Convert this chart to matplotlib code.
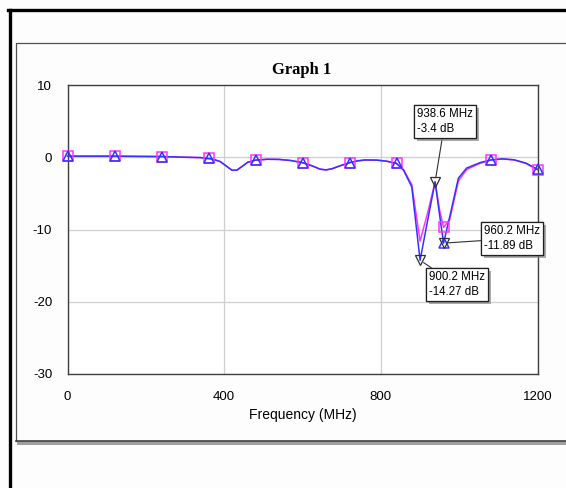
import matplotlib
matplotlib.use("Agg")
import matplotlib.pyplot as plt
from matplotlib.lines import Line2D
from matplotlib.patches import Rectangle
from matplotlib import patheffects

plt.rcParams["axes.unicode_minus"] = False

# ---- data ----
freq = [0, 60, 120, 180, 240, 300, 340, 370, 390, 405, 420, 432, 445, 460,
        480, 510, 540, 570, 600, 625, 645, 660, 675, 695, 720, 740, 760, 790,
        815, 840, 858, 879, 900.2, 920, 938.6, 950, 960.2, 976, 998, 1019,
        1053, 1080, 1110, 1140, 1170, 1200]
s_blue = [0.15, 0.15, 0.15, 0.12, 0.1, 0.0, -0.05, -0.25, -0.6, -1.2, -1.8,
          -1.8, -1.3, -0.7, -0.4, -0.28, -0.3, -0.45, -0.75, -1.2, -1.65,
          -1.75, -1.6, -1.2, -0.75, -0.5, -0.38, -0.4, -0.55, -0.85, -1.8,
          -4.1, -14.27, -8.6, -3.4, -8.0, -11.89, -8.2, -2.9, -1.5, -0.75,
          -0.38, -0.22, -0.35, -0.8, -1.67]
s_magenta = [0.15, 0.15, 0.15, 0.12, 0.1, 0.0, -0.05, -0.25, -0.6, -1.2, -1.8,
             -1.8, -1.3, -0.7, -0.4, -0.28, -0.3, -0.45, -0.75, -1.2, -1.65,
             -1.75, -1.6, -1.2, -0.75, -0.5, -0.38, -0.4, -0.55, -0.85, -1.7,
             -3.8, -11.6, -7.6, -3.4, -7.3, -9.7, -8.6, -3.3, -1.7, -0.85,
             -0.4, -0.24, -0.37, -0.85, -1.72]
marker_freq = [0, 120, 240, 360, 480, 600, 720, 840, 960, 1080, 1200]
marker_blue = [0.15, 0.15, 0.1, -0.15, -0.4, -0.75, -0.75, -0.85, -11.89, -0.38, -1.67]
marker_magenta = [0.15, 0.15, 0.1, -0.15, -0.4, -0.75, -0.75, -0.85, -9.7, -0.4, -1.72]

ann_freq = [938.6, 960.2, 900.2]
ann_db = [-3.4, -11.89, -14.27]
ann_text = ["938.6 MHz\n-3.4 dB", "960.2 MHz\n-11.89 dB", "900.2 MHz\n-14.27 dB"]
ann_box_px = [(417, 108), (484, 225), (429, 271)]  # top-left of label text (pixels)

x_ticks = [0, 400, 800, 1200]
y_ticks = [10, 0, -10, -20, -30]
title = "Graph 1"
x_label = "Frequency (MHz)"

W, H = 566, 488
fig = plt.figure(figsize=(W / 100, H / 100), dpi=100)
fig.patch.set_facecolor("#FDFDFD")

def fx(px):
    return px / W

def fy(py):
    return 1 - py / H

# outer black border (left and top)
fig.add_artist(Line2D([fx(9.5), fx(9.5)], [fy(10), fy(488)], color="black", lw=2.4,
                      transform=fig.transFigure))
fig.add_artist(Line2D([fx(8.3), fx(566)], [fy(10), fy(10)], color="black", lw=2.4,
                      transform=fig.transFigure))
# inner panel with shadow
fig.add_artist(Rectangle((fx(17), fy(444.5)), fx(566) - fx(17), fy(441) - fy(444.5),
                         color="#A0A0A0", lw=0, transform=fig.transFigure))
fig.add_artist(Line2D([fx(15.5), fx(15.5), fx(566)], [fy(440.5), fy(42.5), fy(42.5)],
                      color="#505050", lw=0.9, transform=fig.transFigure))
fig.add_artist(Line2D([fx(15.5), fx(566)], [fy(440.5), fy(440.5)],
                      color="#404040", lw=1.2, transform=fig.transFigure))

ax_l, ax_r, ax_t, ax_b = 67.5, 537.5, 85, 374
ax = fig.add_axes([fx(ax_l), fy(ax_b), (ax_r - ax_l) / W, (ax_b - ax_t) / H])
ax.set_facecolor("white")
ax.set_xlim(0, 1200)
ax.set_ylim(-30, 10)
ax.set_xticks(x_ticks)
ax.set_yticks(y_ticks)
ax.tick_params(length=0, labelsize=9.5)
ax.tick_params(axis="x", pad=12.5)
ax.tick_params(axis="y", pad=11)
for lab in ax.get_xticklabels() + ax.get_yticklabels():
    lab.set_fontfamily("Liberation Sans")
ax.grid(True, color="#CFCFCF", lw=0.9)
ax.set_axisbelow(True)
for sp in ax.spines.values():
    sp.set_color("#404040")
    sp.set_linewidth(1.0)

ax.set_xlabel(x_label, fontsize=10, family="Liberation Sans", labelpad=3)
fig.text(fx(302), fy(70), title, ha="center", va="center", fontsize=12,
         fontweight="bold", family="Liberation Serif")

ax.plot(freq, s_magenta, color="#FF33FF", lw=1.1, zorder=3, clip_on=False)
ax.plot(freq, s_blue, color="#3333FF", lw=1.1, zorder=4, clip_on=False)
ax.plot(marker_freq, marker_magenta, ls="none", marker="s", ms=7.5, mfc="none",
        mec="#FF33FF", mew=1.1, zorder=5, clip_on=False)
ax.plot(marker_freq, marker_blue, ls="none", marker="^", ms=7, mfc="none",
        mec="#3333FF", mew=1.1, zorder=6, clip_on=False)
ax.plot(ann_freq, ann_db, ls="none", marker="v", ms=7, mfc="none", mec="#303030",
        mew=0.9, zorder=7)

# annotation labels with leader lines
inv = ax.transData.inverted()
for f, d, txt, (bx, by) in zip(ann_freq, ann_db, ann_text, ann_box_px):
    tx, ty = fig.transFigure.transform((fx(bx), fy(by)))
    tf, td = inv.transform((tx, ty))
    t = ax.annotate(txt, xy=(f, d), xytext=(tf, td), textcoords="data",
                    ha="left", va="top", fontsize=8.3, family="Liberation Sans",
                    linespacing=1.35,
                    bbox=dict(boxstyle="square,pad=0.25", fc="white", ec="#202020", lw=0.9),
                    arrowprops=dict(arrowstyle="-", color="#303030", lw=0.8,
                                    shrinkA=0, shrinkB=3),
                    zorder=8, annotation_clip=False)
    t.get_bbox_patch().set_path_effects([
        patheffects.withSimplePatchShadow(offset=(2, -2), shadow_rgbFace="#888888", alpha=0.7),
        patheffects.Normal()])

fig.savefig("out.png", dpi=100, facecolor=fig.get_facecolor())
